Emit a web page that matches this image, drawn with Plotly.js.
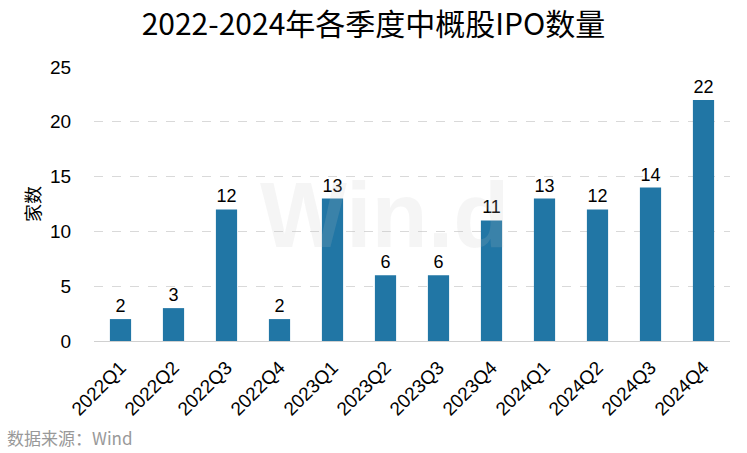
<!DOCTYPE html>
<html><head><meta charset="utf-8">
<script src="https://cdn.plot.ly/plotly-3.0.1.min.js"></script>
<style>html,body{margin:0;padding:0;background:#fff;}#chart{width:747px;height:453px;}</style>
</head><body><div id="chart"></div>
<script>
const quarters = ['2022Q1','2022Q2','2022Q3','2022Q4','2023Q1','2023Q2','2023Q3','2023Q4','2024Q1','2024Q2','2024Q3','2024Q4'];
const ipoCounts = [2,3,12,2,13,6,6,11,13,12,14,22];
const yTicks = [0,5,10,15,20,25];

const W = 747, H = 453;
const m = {l:94, r:17, t:67, b:112};
const pw = W - m.l - m.r, ph = H - m.t - m.b;
const px = x => (x - m.l) / pw;
const py = y => (H - m.b - y) / ph;
const LAT = "'Liberation Sans', Arial, sans-serif";
const CJK = "'Noto Sans CJK SC', sans-serif";

const trace = {
  type:'bar', x:quarters, y:ipoCounts,
  marker:{color:'#2176a5'}, width:0.4,
  text:ipoCounts.map(String), textposition:'outside',
  textfont:{family:LAT, size:18, color:'#000'},
  cliponaxis:false, hoverinfo:'none'
};

const layout = {
  width:W, height:H, margin:m,
  paper_bgcolor:'#fff', plot_bgcolor:'#fff',
  showlegend:false,
  title:{text:'2022-2024年各季度中概股IPO数量', x:0.5, xref:'container', xanchor:'center',
         y:1-24/H, yref:'container', yanchor:'middle',
         font:{family:CJK, size:30, color:'#000'}},
  xaxis:{type:'category', tickangle:-45, ticks:'outside', ticklen:7, tickcolor:'rgba(0,0,0,0)',
         tickfont:{family:LAT, size:19, color:'#000'},
         showline:true, linecolor:'#d0d0d0', linewidth:1, showgrid:false, automargin:false},
  yaxis:{range:[0,25], tickvals:yTicks, ticktext:yTicks.map(String),
         ticks:'outside', ticklen:18, tickcolor:'rgba(0,0,0,0)',
         tickfont:{family:LAT, size:19, color:'#000'},
         showgrid:true, gridcolor:'#d9d9d9', griddash:'dash', gridwidth:1,
         zeroline:false, showline:false, automargin:false,
         title:{text:'家数', standoff:4, font:{family:CJK, size:18, color:'#000'}}},
  annotations:[
    {text:'Win.d', xref:'paper', yref:'paper', x:px(385), y:py(215), xanchor:'center', yanchor:'middle',
     showarrow:false, font:{family:LAT, size:92, color:'rgba(190,190,190,0.16)', weight:'bold'}},
    {text:'数据来源：Wind', xref:'paper', yref:'paper', x:px(5), y:py(437), xanchor:'left', yanchor:'middle',
     showarrow:false, font:{family:CJK, size:17, color:'#999'}}
  ]
};

Plotly.newPlot('chart',[trace],layout,{displayModeBar:false,staticPlot:true});
</script></body></html>
